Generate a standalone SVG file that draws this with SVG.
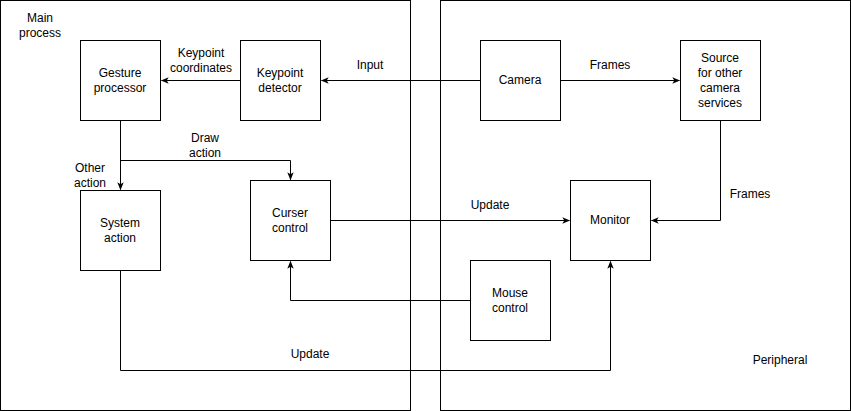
<svg xmlns="http://www.w3.org/2000/svg" width="851" height="411" viewBox="0 0 851 411">
<style>
.box{fill:#fff;stroke:#000;stroke-width:1}
.cont{fill:#fff;stroke:#000;stroke-width:1}
text{font-family:"Liberation Sans",Arial,Helvetica,sans-serif;font-size:12px;fill:#000;text-anchor:middle}
.edge{fill:none;stroke:#000;stroke-width:1}
</style>
<defs>
<marker id="arr" viewBox="0 0 10 10" refX="9" refY="5" markerWidth="8" markerHeight="8" markerUnits="userSpaceOnUse" orient="auto">
<path d="M0,1 L10,5 L0,9 L2.5,5 Z" fill="#000"/>
</marker>
</defs>
<rect width="851" height="411" fill="#fff"/>
<g id="main-process">
<rect class="cont" x="0.5" y="0.5" width="410" height="410"/>
<text x="40" y="22">Main</text>
<text x="40" y="37">process</text>
</g>
<g id="peripheral">
<rect class="cont" x="440.5" y="0.5" width="410" height="410"/>
<text x="780" y="364">Peripheral</text>
</g>
<g id="connectors">
<path class="edge" d="M480.5,80.5 L321.5,80.5" marker-end="url(#arr)"/>
<path class="edge" d="M240.5,80.5 L161.5,80.5" marker-end="url(#arr)"/>
<path class="edge" d="M560.5,80.5 L679.5,80.5" marker-end="url(#arr)"/>
<path class="edge" d="M120.5,120.5 L120.5,189.5" marker-end="url(#arr)"/>
<path class="edge" d="M120.5,160.5 L290.5,160.5 L290.5,179.5" marker-end="url(#arr)"/>
<path class="edge" d="M330.5,220.5 L569.5,220.5" marker-end="url(#arr)"/>
<path class="edge" d="M720.5,120.5 L720.5,220.5 L651.5,220.5" marker-end="url(#arr)"/>
<path class="edge" d="M470.5,300.5 L290.5,300.5 L290.5,261.5" marker-end="url(#arr)"/>
<path class="edge" d="M120.5,270.5 L120.5,370.5 L610.5,370.5 L610.5,261.5" marker-end="url(#arr)"/>
<text x="370" y="69">Input</text>
<text x="201" y="57">Keypoint</text>
<text x="201" y="72">coordinates</text>
<text x="610" y="69">Frames</text>
<text x="205" y="142">Draw</text>
<text x="205" y="157">action</text>
<text x="90" y="172">Other</text>
<text x="90" y="187">action</text>
<text x="490" y="209">Update</text>
<text x="750" y="198">Frames</text>
<text x="310" y="358">Update</text>
</g>
<g id="gesture-processor">
<rect class="box" x="80.5" y="40.5" width="80" height="80"/>
<text x="120" y="77">Gesture</text>
<text x="120" y="92">processor</text>
</g>
<g id="keypoint-detector">
<rect class="box" x="240.5" y="40.5" width="80" height="80"/>
<text x="280" y="77">Keypoint</text>
<text x="280" y="92">detector</text>
</g>
<g id="camera">
<rect class="box" x="480.5" y="40.5" width="80" height="80"/>
<text x="520" y="84">Camera</text>
</g>
<g id="source">
<rect class="box" x="680.5" y="40.5" width="80" height="80"/>
<text x="720" y="62">Source</text>
<text x="720" y="77">for other</text>
<text x="720" y="92">camera</text>
<text x="720" y="107">services</text>
</g>
<g id="system-action">
<rect class="box" x="80.5" y="190.5" width="80" height="80"/>
<text x="120" y="227">System</text>
<text x="120" y="242">action</text>
</g>
<g id="curser-control">
<rect class="box" x="250.5" y="180.5" width="80" height="80"/>
<text x="290" y="217">Curser</text>
<text x="290" y="232">control</text>
</g>
<g id="monitor">
<rect class="box" x="570.5" y="180.5" width="80" height="80"/>
<text x="610" y="224">Monitor</text>
</g>
<g id="mouse-control">
<rect class="box" x="470.5" y="260.5" width="80" height="80"/>
<text x="510" y="297">Mouse</text>
<text x="510" y="312">control</text>
</g>
</svg>
